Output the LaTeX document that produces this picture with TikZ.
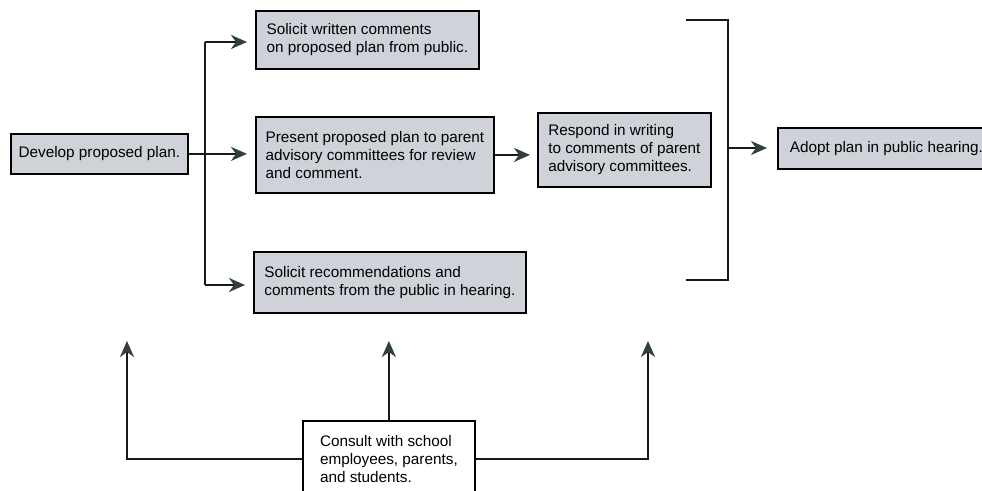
\documentclass[tikz,border=0pt]{standalone}
\usepackage{fontspec}
\setmainfont{Liberation Sans}
\usetikzlibrary{arrows.meta,calc}
\definecolor{boxfill}{RGB}{208,210,217}
\definecolor{tipcol}{RGB}{50,62,64}
\begin{document}
\begin{tikzpicture}[x=1pt,y=-1pt,
  box/.style={draw=black, line width=1.8pt, fill=boxfill, anchor=north west,
    inner xsep=6pt, inner ysep=2pt, align=left, font=\fontsize{15.3}{18}\selectfont},
  wbox/.style={box, fill=white},
  conn/.style={line width=2.2pt, black!90},
  arr/.style={conn, -{Stealth[length=16pt,width=14pt,inset=5pt,color=tipcol]}},
]
\useasboundingbox (0,0) rectangle (982,490);
\fill[white] (0,0) rectangle (982,490);

\node[box, minimum width=177pt, minimum height=40pt] (dev) at (10,133) {Develop proposed plan.};
\node[box, minimum width=223pt, minimum height=58pt] (top) at (255,10)
  {Solicit written comments\\on proposed plan from public.};
\node[box, minimum width=238pt, minimum height=76pt] (mid) at (255,116)
  {Present proposed plan to parent\\advisory committees for review\\and comment.};
\node[box, minimum width=272pt, minimum height=61pt] (bot) at (253,251)
  {Solicit recommendations and\\comments from the public in hearing.};
\node[box, minimum width=173pt, minimum height=74pt] (resp) at (537,112)
  {Respond in writing\\to comments of parent\\advisory committees.};
\node[box, minimum width=217pt, minimum height=41pt] (adopt) at (777,127)
  {Adopt plan in public hearing.};
\node[wbox, minimum width=172pt, minimum height=76pt] (consult) at (302,420)
  {Consult with school\\employees, parents,\\and students.};

% branching trunk
\coordinate (tt) at (205,42);
\coordinate (tb) at (205,285);
\draw[conn] (tt) -- (tb);
\draw[arr, shorten >=8pt] (tt) -- (tt -| top.west);
\draw[arr, shorten >=8pt] (dev.east) -- (dev.east -| mid.west);
\draw[arr, shorten >=8pt] (tb) -- (tb -| bot.west);
\draw[arr, shorten >=7pt] (mid.east) -- (mid.east -| resp.west);

% bracket
\coordinate (b1) at (686,20);
\coordinate (b2) at (728,20);
\coordinate (b3) at (728,280);
\coordinate (b4) at (686,280);
\draw[conn] (b1) -- (b2) -- (b3) -- (b4);
\coordinate (bm) at (728,148);
\draw[arr, shorten >=10pt] (bm) -- (bm -| adopt.west);

% consult arrows
\coordinate (u1) at (127,341);
\coordinate (u3) at (648,341);
\draw[arr] (consult.west) -| (u1);
\draw[arr] (consult.north) -- (consult.north |- u1);
\draw[arr] (consult.east) -| (u3);
\end{tikzpicture}
\end{document}
